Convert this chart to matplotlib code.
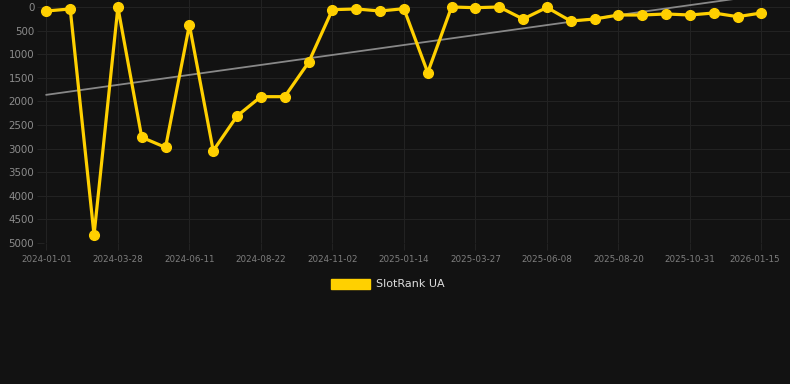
import numpy as np
import matplotlib
matplotlib.use('Agg')
import matplotlib.pyplot as plt
from matplotlib.patches import Patch
from matplotlib.transforms import ScaledTranslation

# rank values (y axis is inverted: lower rank = better)
ranks = [85, 42, 4830, 5, 2760, 2975, 380, 3045, 2310, 1900, 1900, 1175,
         57, 42, 85, 36, 1390, 0, 15, 0, 255, 10, 297, 255, 170, 170,
         148, 170, 127, 205, 127]
tick_labels = ['2024-01-01', '2024-03-28', '2024-06-11', '2024-08-22',
               '2024-11-02', '2025-01-14', '2025-03-27', '2025-06-08',
               '2025-08-20', '2025-10-31', '2026-01-15']
series_name = 'SlotRank UA'

bg = '#121212'
grid_c = '#222222'
yellow = '#FFD000'

x = np.arange(len(ranks))
y = np.array(ranks, dtype=float)

# linear trend
slope, intercept = np.polyfit(x, y, 1)

fig = plt.figure(figsize=(7.9, 3.84), dpi=100, facecolor=bg)
ax = fig.add_axes([44 / 790, 1 - 243 / 384, 1 - 44 / 790, 243 / 384])
ax.set_facecolor(bg)

ax.plot(x, intercept + slope * x, color='#888888', linewidth=1.3, zorder=2)
ax.plot(x, y, color=yellow, linewidth=2.3, marker='o', markersize=7,
        solid_joinstyle='miter', clip_on=False, zorder=3)

ax.set_xlim(-0.1, 31.2)
ax.set_ylim(5000, -148)
ax.set_yticks(np.arange(0, 5001, 500))
ax.set_xticks(x[::3])
ax.set_xticklabels(tick_labels)

ax.grid(True, color=grid_c, linewidth=0.8)
ax.set_axisbelow(True)
for s in ax.spines.values():
    s.set_visible(False)
ax.tick_params(axis='y', colors=grid_c, labelcolor='#8c8c8c', labelsize=7.4, length=5, pad=2)
ax.tick_params(axis='x', colors=grid_c, labelcolor='#7e7e7e', labelsize=6.3, length=5, pad=4)

# last date label is pulled in a little so it stays inside the canvas
last = ax.get_xticklabels()[-1]
last.set_transform(last.get_transform() + ScaledTranslation(-0.07, 0, fig.dpi_scale_trans))

fig.legend(handles=[Patch(facecolor=yellow, edgecolor=yellow)], labels=[series_name],
           loc='center', bbox_to_anchor=(388 / 790, 1 - 284 / 384), frameon=False,
           fontsize=8, labelcolor='#dddddd', handlelength=3.5, handleheight=1.05,
           handletextpad=0.6)

fig.savefig('out.png', dpi=100, facecolor=bg)
